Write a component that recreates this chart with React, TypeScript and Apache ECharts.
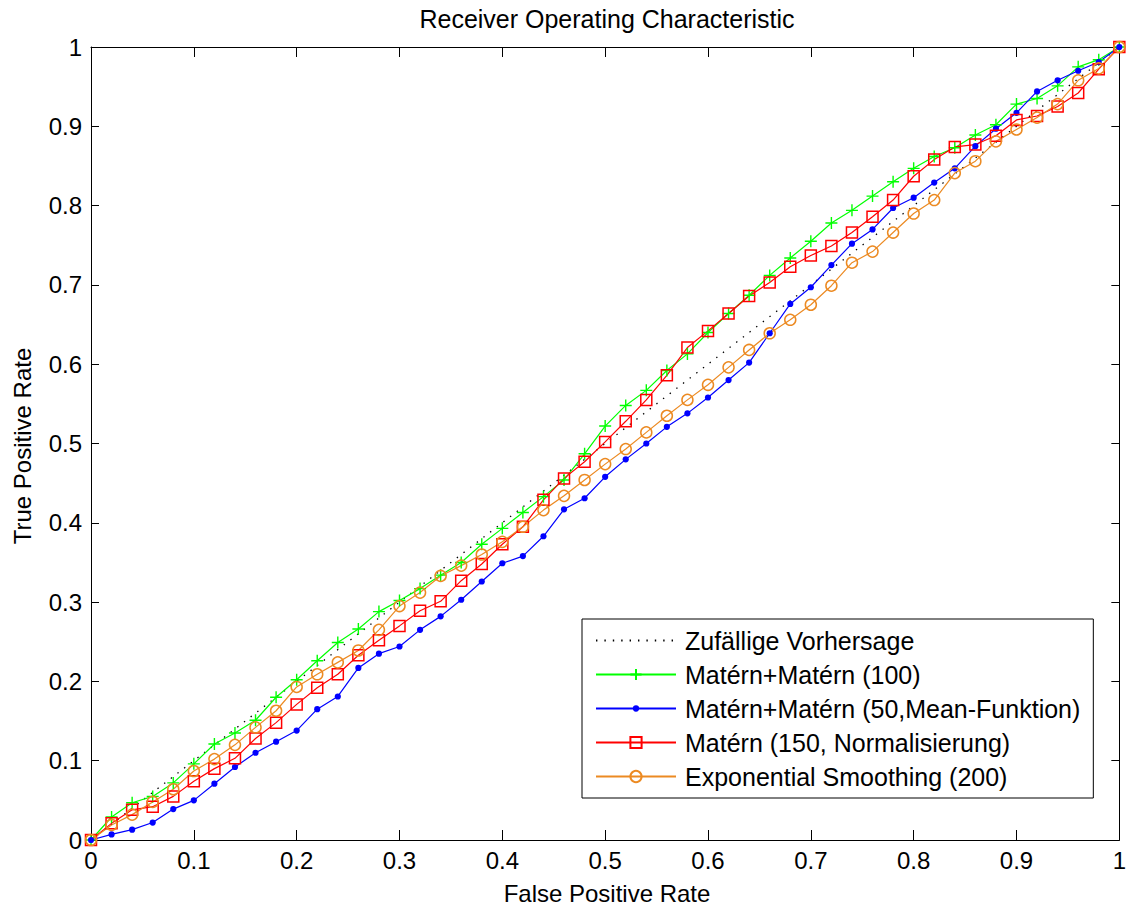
import React, { useEffect, useRef } from "react";
import * as echarts from "echarts";

const FONT = '"Liberation Sans", Arial, sans-serif';

const TITLE = "Receiver Operating Characteristic";
const X_NAME = "False Positive Rate";
const Y_NAME = "True Positive Rate";

const FPR = [
  0, 0.02, 0.04, 0.06, 0.08, 0.1, 0.12, 0.14, 0.16, 0.18, 0.2, 0.22, 0.24, 0.26, 0.28, 0.3, 0.32,
  0.34, 0.36, 0.38, 0.4, 0.42, 0.44, 0.46, 0.48, 0.5, 0.52, 0.54, 0.56, 0.58, 0.6, 0.62, 0.64, 0.66,
  0.68, 0.7, 0.72, 0.74, 0.76, 0.78, 0.8, 0.82, 0.84, 0.86, 0.88, 0.9, 0.92, 0.94, 0.96, 0.98, 1,
];

const RANDOM_X = [0, 1];
const RANDOM_Y = [0, 1];

const TPR_GREEN = [
  0, 0.029, 0.047, 0.055, 0.072, 0.096, 0.121, 0.135, 0.151, 0.18, 0.202, 0.226, 0.249, 0.266,
  0.288, 0.302, 0.317, 0.334, 0.35, 0.373, 0.393, 0.413, 0.433, 0.454, 0.487, 0.522, 0.548, 0.567,
  0.592, 0.613, 0.64, 0.664, 0.687, 0.712, 0.734, 0.755, 0.778, 0.794, 0.812, 0.83, 0.847, 0.862,
  0.873, 0.889, 0.902, 0.928, 0.935, 0.951, 0.975, 0.984, 1,
];

const TPR_BLUE = [
  0, 0.007, 0.013, 0.022, 0.039, 0.05, 0.071, 0.092, 0.11, 0.124, 0.138, 0.165, 0.181, 0.217, 0.235,
  0.244, 0.265, 0.282, 0.303, 0.326, 0.349, 0.358, 0.383, 0.417, 0.431, 0.458, 0.48, 0.5, 0.521,
  0.538, 0.558, 0.58, 0.602, 0.639, 0.676, 0.697, 0.725, 0.752, 0.77, 0.797, 0.81, 0.829, 0.847,
  0.875, 0.897, 0.917, 0.944, 0.958, 0.97, 0.981, 1,
];

const TPR_RED = [
  0, 0.021, 0.038, 0.042, 0.055, 0.074, 0.09, 0.103, 0.128, 0.148, 0.171, 0.192, 0.209, 0.233,
  0.252, 0.27, 0.289, 0.301, 0.327, 0.348, 0.373, 0.395, 0.429, 0.456, 0.477, 0.502, 0.528, 0.555,
  0.586, 0.621, 0.642, 0.664, 0.686, 0.703, 0.723, 0.737, 0.749, 0.766, 0.786, 0.807, 0.837, 0.858,
  0.874, 0.877, 0.888, 0.908, 0.913, 0.925, 0.942, 0.972, 1,
];

const TPR_ORANGE = [
  0, 0.019, 0.032, 0.048, 0.064, 0.087, 0.102, 0.12, 0.142, 0.163, 0.193, 0.209, 0.224, 0.239,
  0.265, 0.295, 0.312, 0.333, 0.346, 0.36, 0.376, 0.395, 0.416, 0.434, 0.454, 0.474, 0.493, 0.514,
  0.535, 0.555, 0.574, 0.596, 0.618, 0.639, 0.656, 0.675, 0.699, 0.728, 0.742, 0.766, 0.79, 0.807,
  0.841, 0.856, 0.881, 0.896, 0.911, 0.928, 0.958, 0.973, 1,
];

const NAMES = [
  "Zufällige Vorhersage",
  "Matérn+Matérn (100)",
  "Matérn+Matérn (50,Mean-Funktion)",
  "Matérn (150, Normalisierung)",
  "Exponential Smoothing (200)",
];

const COLORS = ["#000000", "#00ff00", "#0000ff", "#ff0000", "#ec8a22"];

const PLUS = "path://M5,0L5,10M0,5L10,5";
const DOT = "path://M0,0L0,0M10,10L10,10M2.2,5A2.8,2.8,0,1,0,7.8,5A2.8,2.8,0,1,0,2.2,5Z";

function pairs(xs: number[], ys: number[]) {
  return xs.map((x, i) => [x, ys[i]]);
}

export default function App() {
  const ref = useRef<HTMLDivElement>(null);

  useEffect(() => {
    if (!ref.current) return;
    const chart = echarts.init(ref.current, null, { renderer: "svg" });

    const axisCommon = {
      type: "value" as const,
      min: 0,
      max: 1,
      interval: 0.1,
      splitLine: { show: false },
    };

    const option: any = {
      animation: false,
      backgroundColor: "#ffffff",
      title: {
        text: TITLE,
        left: 607,
        top: 6,
        textAlign: "center",
        padding: 0,
        textStyle: { fontSize: 25, fontWeight: "normal", fontFamily: FONT, color: "#000" },
      },
      grid: { left: 91, right: 7, top: 47, bottom: 68, containLabel: false },
      xAxis: [
        {
          ...axisCommon,
          position: "bottom",
          axisLine: { show: true, onZero: false, lineStyle: { color: "#000", width: 1 } },
          axisTick: { show: true, inside: true, length: 10, lineStyle: { color: "#000" } },
          axisLabel: { margin: 8, fontSize: 24, fontFamily: FONT, color: "#000" },
        },
        {
          ...axisCommon,
          position: "top",
          axisLine: { show: true, onZero: false, lineStyle: { color: "#000", width: 1 } },
          axisTick: { show: true, inside: true, length: 10, lineStyle: { color: "#000" } },
          axisLabel: { show: false },
        },
      ],
      yAxis: [
        {
          ...axisCommon,
          position: "left",
          axisLine: { show: true, onZero: false, lineStyle: { color: "#000", width: 1 } },
          axisTick: { show: true, inside: true, length: 8, lineStyle: { color: "#000" } },
          axisLabel: { margin: 9, fontSize: 24, fontFamily: FONT, color: "#000" },
        },
        {
          ...axisCommon,
          position: "right",
          axisLine: { show: true, onZero: false, lineStyle: { color: "#000", width: 1 } },
          axisTick: { show: true, inside: true, length: 8, lineStyle: { color: "#000" } },
          axisLabel: { show: false },
        },
      ],
      legend: {
        orient: "vertical",
        left: 582,
        top: 619,
        padding: [9, 13, 9, 13],
        itemWidth: 80,
        itemHeight: 14,
        itemGap: 9,
        backgroundColor: "#ffffff",
        borderColor: "#000",
        borderWidth: 1,
        selectedMode: false,
        textStyle: { fontSize: 25, fontFamily: FONT, color: "#000", padding: [0, 0, 0, 4] },
        data: NAMES,
      },
      graphic: [
        {
          type: "text",
          x: 607,
          y: 893,
          style: {
            text: X_NAME,
            fontSize: 24,
            fontFamily: FONT,
            fill: "#000",
            align: "center",
            verticalAlign: "middle",
          },
        },
        {
          type: "text",
          x: 22,
          y: 446,
          rotation: Math.PI / 2,
          style: {
            text: Y_NAME,
            fontSize: 24,
            fontFamily: FONT,
            fill: "#000",
            align: "center",
            verticalAlign: "middle",
          },
        },
      ],
      series: [
        {
          name: NAMES[0],
          type: "line",
          data: pairs(RANDOM_X, RANDOM_Y),
          symbol: "circle",
          symbolSize: 0,
          showSymbol: false,
          itemStyle: { color: "rgba(0,0,0,0)" },
          lineStyle: { color: COLORS[0], width: 1.3, type: [1.4, 7] },
          clip: false,
        },
        {
          name: NAMES[1],
          type: "line",
          data: pairs(FPR, TPR_GREEN),
          symbol: PLUS,
          symbolSize: 12,
          itemStyle: { color: COLORS[1], borderColor: COLORS[1], borderWidth: 1.4 },
          lineStyle: { color: COLORS[1], width: 1.2 },
          clip: false,
        },
        {
          name: NAMES[2],
          type: "line",
          data: pairs(FPR, TPR_BLUE),
          symbol: DOT,
          symbolSize: 11,
          itemStyle: { color: COLORS[2], borderWidth: 0 },
          lineStyle: { color: COLORS[2], width: 1.2 },
          clip: false,
        },
        {
          name: NAMES[3],
          type: "line",
          data: pairs(FPR, TPR_RED),
          symbol: "rect",
          symbolSize: 11,
          itemStyle: { color: "rgba(0,0,0,0)", borderColor: COLORS[3], borderWidth: 1.5 },
          lineStyle: { color: COLORS[3], width: 1.2 },
          clip: false,
        },
        {
          name: NAMES[4],
          type: "line",
          data: pairs(FPR, TPR_ORANGE),
          symbol: "circle",
          symbolSize: 11,
          itemStyle: { color: "rgba(0,0,0,0)", borderColor: COLORS[4], borderWidth: 1.5 },
          lineStyle: { color: COLORS[4], width: 1.2 },
          clip: false,
        },
      ],
    };

    chart.setOption(option);
    return () => {
      chart.dispose();
    };
  }, []);

  return (
    <div
      ref={ref}
      style={{ position: "fixed", left: 0, top: 0, width: 1129, height: 908, background: "#fff" }}
    />
  );
}
